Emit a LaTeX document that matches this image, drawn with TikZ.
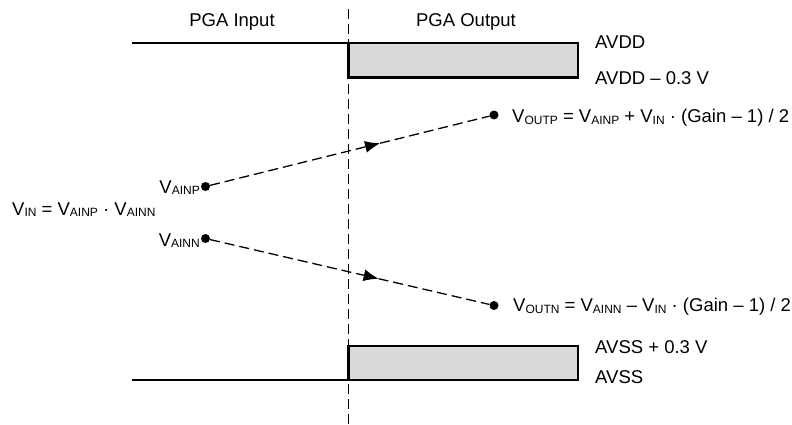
\documentclass[tikz,border=0pt]{standalone}
\usepackage{fontspec}
\setmainfont{Liberation Sans}
\usetikzlibrary{arrows.meta,calc}
\definecolor{boxgray}{HTML}{D9D9D9}
\newcommand\Vsub[1]{V\raisebox{-1.5pt}{\fontsize{12}{13}\selectfont #1}}
\begin{document}
\begin{tikzpicture}[x=1pt,y=-1pt,
 txt/.style={font=\fontsize{18.5}{20}\selectfont, inner sep=0pt, anchor=base west},
 dot/.style={circle,fill=black,inner sep=0pt,minimum size=9pt},
 rail/.style={line width=2.4pt},
 clampbox/.style={draw=black,line width=2.4pt,fill=boxgray},
 dashline/.style={line width=1.3pt,dash pattern=on 10pt off 5pt},
 tip/.style={-{Latex[length=15pt,width=12pt]}}
]
\useasboundingbox (0,0) rectangle (792,425);
% divider
\coordinate (dtop) at (348.5,9);
\coordinate (dbot) at (348.5,425);
\draw[dashline] (dtop) -- (dbot);
% rails
\draw[rail] (132,43) -- (348.5,43);
\draw[clampbox] (348.5,43) rectangle (578,77.5);
\draw[rail] (132,380) -- (348.5,380);
\draw[clampbox] (348.5,346) rectangle (578,380);
% headings
\node[txt,anchor=base] (tin) at (232,27) {PGA Input};
\node[txt,anchor=base] (tout) at (466,27) {PGA Output};
% rail labels
\node[txt] (avdd) at (595,49) {AVDD};
\node[txt] (avddm) at (595,84.5) {AVDD – 0.3 V};
\node[txt] (avssp) at (595,353) {AVSS + 0.3 V};
\node[txt] (avss) at (595,383) {AVSS};
% dots
\node[dot] (pA) at (205.5,186.5) {};
\node[dot] (pB) at (205.5,238.5) {};
\node[dot] (pP) at (494,115) {};
\node[dot] (pN) at (494,305.5) {};
% labels
\node[txt] (vin) at (12,215) {\Vsub{IN} = \Vsub{AINP} · \Vsub{AINN}};
\node[txt,anchor=base east] (lainp) at (200,193) {\Vsub{AINP}};
\node[txt,anchor=base east] (lainn) at (200,246) {\Vsub{AINN}};
\node[txt] (voutp) at (512,123) {\Vsub{OUTP} = \Vsub{AINP} + \Vsub{IN} · (Gain – 1) / 2};
\node[txt] (voutn) at (513,311.5) {\Vsub{OUTN} = \Vsub{AINN} – \Vsub{IN} · (Gain – 1) / 2};
% connectors
\coordinate (mP) at ($(pA)!0.605!(pP)$);
\coordinate (mN) at ($(pB)!0.6!(pN)$);
\draw[dashline,tip] (pA) -- (mP);
\draw[dashline] (mP) -- (pP);
\draw[dashline,tip] (pB) -- (mN);
\draw[dashline] (mN) -- (pN);
\end{tikzpicture}
\end{document}
